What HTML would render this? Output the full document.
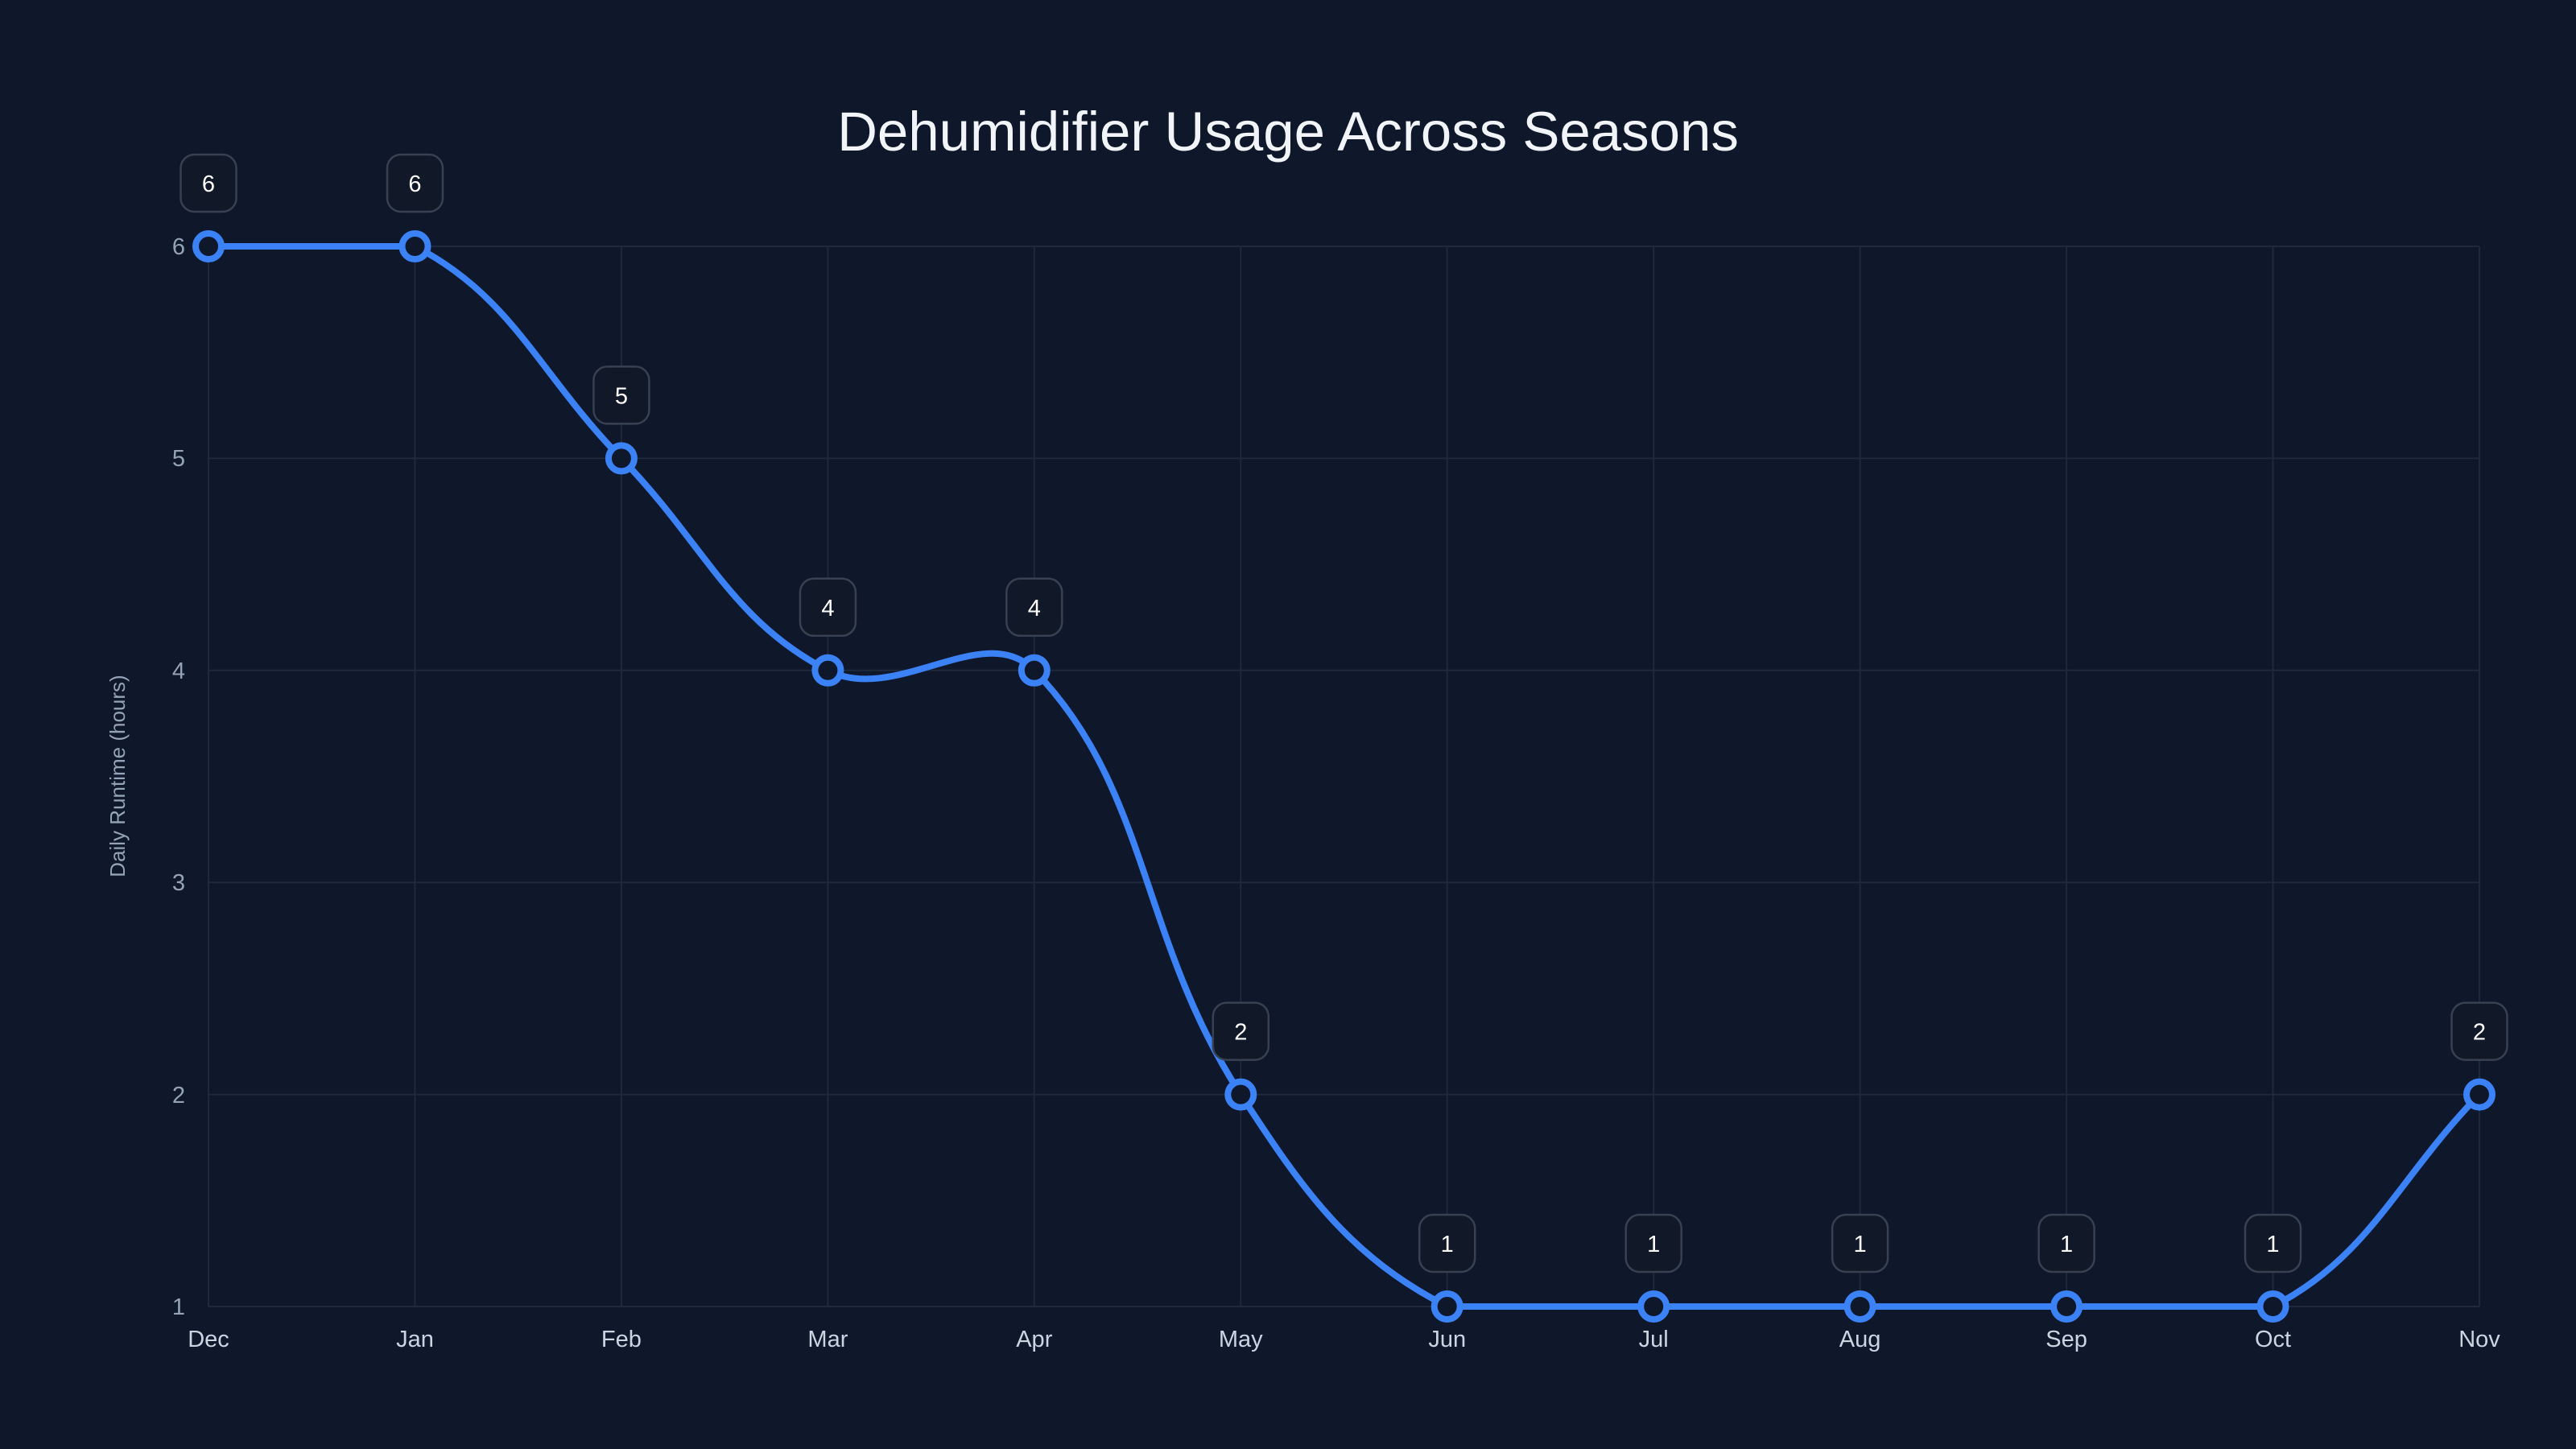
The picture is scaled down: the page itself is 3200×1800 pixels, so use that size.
<!DOCTYPE html>
<html><head><meta charset="utf-8"><style>
html,body{margin:0;padding:0;background:#0f172a;}
svg{display:block}
text{font-family:"Liberation Sans",sans-serif}
</style></head><body>
<svg width="3200" height="1800" viewBox="0 0 3200 1800" xmlns="http://www.w3.org/2000/svg">
<rect width="3200" height="1800" fill="#0f172a"/>
<text x="1600" y="187" text-anchor="middle" font-size="69" fill="#f1f5f9">Dehumidifier Usage Across Seasons</text>
<g stroke="#1e293b" stroke-width="2">
<line x1="259" y1="306" x2="3080" y2="306"/><line x1="259" y1="569.4" x2="3080" y2="569.4"/><line x1="259" y1="832.8" x2="3080" y2="832.8"/><line x1="259" y1="1096.2" x2="3080" y2="1096.2"/><line x1="259" y1="1359.6" x2="3080" y2="1359.6"/><line x1="259" y1="1623" x2="3080" y2="1623"/>
<line x1="259" y1="306" x2="259" y2="1623"/><line x1="515.5" y1="306" x2="515.5" y2="1623"/><line x1="771.9" y1="306" x2="771.9" y2="1623"/><line x1="1028.4" y1="306" x2="1028.4" y2="1623"/><line x1="1284.8" y1="306" x2="1284.8" y2="1623"/><line x1="1541.3" y1="306" x2="1541.3" y2="1623"/><line x1="1797.7" y1="306" x2="1797.7" y2="1623"/><line x1="2054.2" y1="306" x2="2054.2" y2="1623"/><line x1="2310.6" y1="306" x2="2310.6" y2="1623"/><line x1="2567.1" y1="306" x2="2567.1" y2="1623"/><line x1="2823.5" y1="306" x2="2823.5" y2="1623"/><line x1="3080" y1="306" x2="3080" y2="1623"/>
</g>
<g font-size="29" fill="#94a3b8" text-anchor="end">
<text x="230" y="316">6</text><text x="230" y="579">5</text><text x="230" y="843">4</text><text x="230" y="1106">3</text><text x="230" y="1370">2</text><text x="230" y="1633">1</text>
</g>
<g font-size="29" fill="#cbd5e1" text-anchor="middle">
<text x="259" y="1673">Dec</text><text x="515.5" y="1673">Jan</text><text x="771.9" y="1673">Feb</text><text x="1028.4" y="1673">Mar</text><text x="1284.8" y="1673">Apr</text><text x="1541.3" y="1673">May</text><text x="1797.7" y="1673">Jun</text><text x="2054.2" y="1673">Jul</text><text x="2310.6" y="1673">Aug</text><text x="2567.1" y="1673">Sep</text><text x="2823.5" y="1673">Oct</text><text x="3080" y="1673">Nov</text>
</g>
<text transform="translate(155,964) rotate(-90)" text-anchor="middle" font-size="26" fill="#94a3b8">Daily Runtime (hours)</text>
<path d="M259,306 C361.6,306 431.2,306 515.5,306 C636.3,368.1 669.3,464 771.9,569.4 C874.5,674.8 907.6,770.7 1028.4,832.8 C1112.7,876.1 1222.3,768.6 1284.8,832.8 C1427.5,979.4 1415.2,1165.4 1541.3,1359.6 C1620.4,1481.5 1676.9,1560.9 1797.7,1623 L2823.5,1623 C2944.3,1560.9 2977.4,1465 3080,1359.6" fill="none" stroke="#3b82f6" stroke-width="8"/>
<g fill="#0f172a" stroke="#3b82f6" stroke-width="8">
<circle cx="259" cy="306" r="16"/><circle cx="515.5" cy="306" r="16"/><circle cx="771.9" cy="569.4" r="16"/><circle cx="1028.4" cy="832.8" r="16"/><circle cx="1284.8" cy="832.8" r="16"/><circle cx="1541.3" cy="1359.6" r="16"/><circle cx="1797.7" cy="1623" r="16"/><circle cx="2054.2" cy="1623" r="16"/><circle cx="2310.6" cy="1623" r="16"/><circle cx="2567.1" cy="1623" r="16"/><circle cx="2823.5" cy="1623" r="16"/><circle cx="3080" cy="1359.6" r="16"/>
</g>
<g fill="#111827" stroke="#374151" stroke-width="2.5">
<rect x="224.5" y="192" width="69" height="71" rx="17"/><rect x="481" y="192" width="69" height="71" rx="17"/><rect x="737.4" y="455.4" width="69" height="71" rx="17"/><rect x="993.9" y="718.8" width="69" height="71" rx="17"/><rect x="1250.3" y="718.8" width="69" height="71" rx="17"/><rect x="1506.8" y="1245.6" width="69" height="71" rx="17"/><rect x="1763.2" y="1509" width="69" height="71" rx="17"/><rect x="2019.7" y="1509" width="69" height="71" rx="17"/><rect x="2276.1" y="1509" width="69" height="71" rx="17"/><rect x="2532.6" y="1509" width="69" height="71" rx="17"/><rect x="2789" y="1509" width="69" height="71" rx="17"/><rect x="3045.5" y="1245.6" width="69" height="71" rx="17"/>
</g>
<g font-size="29" fill="#ffffff" text-anchor="middle">
<text x="259" y="238">6</text><text x="515.5" y="238">6</text><text x="771.9" y="501.4">5</text><text x="1028.4" y="764.8">4</text><text x="1284.8" y="764.8">4</text><text x="1541.3" y="1291.6">2</text><text x="1797.7" y="1555">1</text><text x="2054.2" y="1555">1</text><text x="2310.6" y="1555">1</text><text x="2567.1" y="1555">1</text><text x="2823.5" y="1555">1</text><text x="3080" y="1291.6">2</text>
</g>
</svg>
</body></html>
